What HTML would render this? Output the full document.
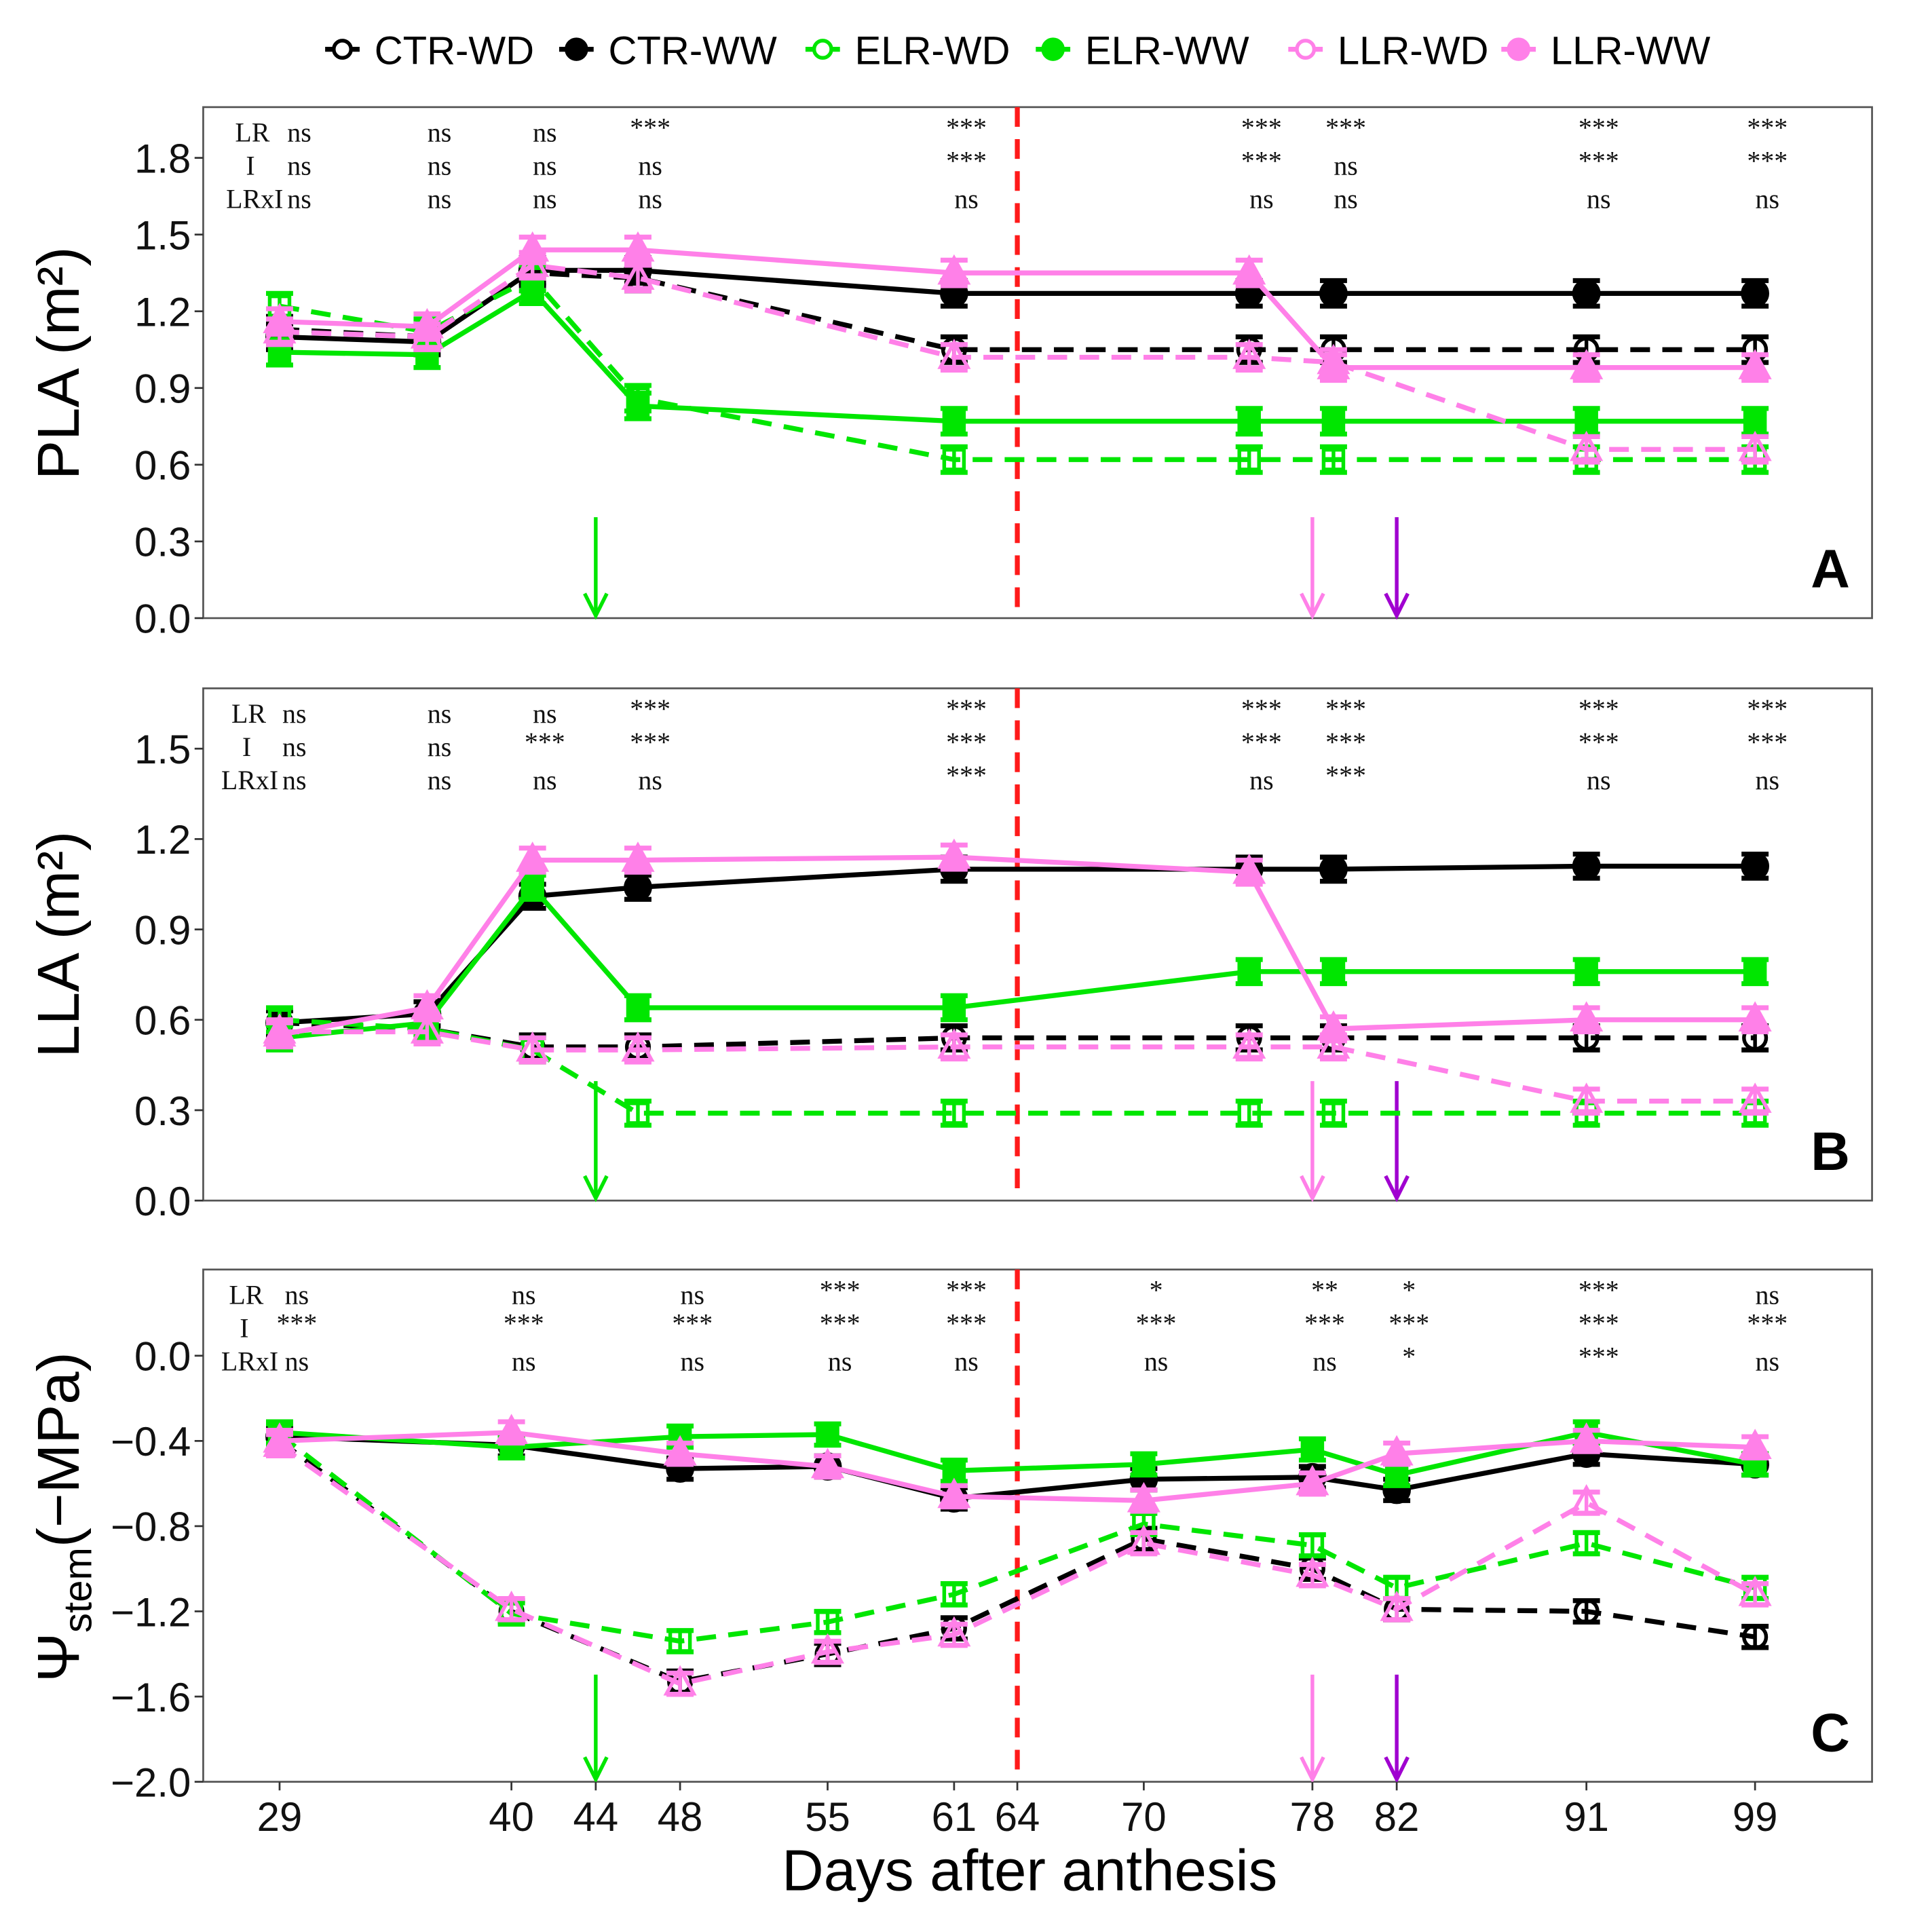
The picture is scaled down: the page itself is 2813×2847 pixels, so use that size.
<!DOCTYPE html>
<html><head><meta charset="utf-8"><style>
html,body{margin:0;padding:0;background:#fff;}
svg{display:block;}
text{font-family:"Liberation Sans",sans-serif;}
.st{font-family:"Liberation Serif",serif;font-size:22px;fill:#111;}
</style></head><body>
<svg id="chart" width="2813" height="2847" viewBox="0 0 1550 1569" preserveAspectRatio="none" xmlns="http://www.w3.org/2000/svg"></svg>
<script>
// ---- data ----
const seriesNames = ["CTR-WD","CTR-WW","ELR-WD","ELR-WW","LLR-WD","LLR-WW"];
const daysAB = [29,36,41,46,61,75,79,91,99];
const daysC = [29,40,48,55,61,70,78,82,91,99];
const xTicks = [29,40,44,48,55,61,64,70,78,82,91,99];
const A_ctrWD = [1.13,1.10,1.35,1.33,1.05,1.05,1.05,1.05,1.05];
const A_ctrWW = [1.10,1.08,1.36,1.36,1.27,1.27,1.27,1.27,1.27];
const A_elrWD = [1.22,1.12,1.33,0.86,0.62,0.62,0.62,0.62,0.62];
const A_elrWW = [1.04,1.03,1.28,0.83,0.77,0.77,0.77,0.77,0.77];
const A_llrWD = [1.12,1.10,1.38,1.33,1.02,1.02,1.00,0.66,0.66];
const A_llrWW = [1.16,1.14,1.44,1.44,1.35,1.35,0.98,0.98,0.98];
const B_ctrWD = [0.59,0.57,0.51,0.51,0.54,0.54,0.54,0.54,0.54];
const B_ctrWW = [0.59,0.62,1.01,1.04,1.10,1.10,1.10,1.11,1.11];
const B_elrWD = [0.60,0.57,0.50,0.29,0.29,0.29,0.29,0.29,0.29];
const B_elrWW = [0.54,0.59,1.04,0.64,0.64,0.76,0.76,0.76,0.76];
const B_llrWD = [0.56,0.56,0.50,0.50,0.51,0.51,0.51,0.33,0.33];
const B_llrWW = [0.55,0.64,1.13,1.13,1.14,1.09,0.57,0.60,0.60];
const C_ctrWD = [-0.40,-1.20,-1.53,-1.40,-1.28,-0.86,-1.00,-1.19,-1.20,-1.32];
const C_ctrWW = [-0.38,-0.42,-0.53,-0.52,-0.67,-0.58,-0.57,-0.63,-0.46,-0.51];
const C_elrWD = [-0.37,-1.21,-1.34,-1.25,-1.12,-0.79,-0.89,-1.09,-0.88,-1.09];
const C_elrWW = [-0.36,-0.43,-0.38,-0.37,-0.54,-0.51,-0.44,-0.56,-0.36,-0.51];
const C_llrWD = [-0.42,-1.19,-1.54,-1.39,-1.31,-0.88,-1.03,-1.19,-0.69,-1.12];
const C_llrWW = [-0.40,-0.36,-0.46,-0.52,-0.66,-0.68,-0.60,-0.46,-0.40,-0.43];
const errA = 0.05, errB = 0.04, errC = 0.05;
const A_yTicks = ["0.0","0.3","0.6","0.9","1.2","1.5","1.8"];
const B_yTicks = ["0.0","0.3","0.6","0.9","1.2","1.5"];
const C_yTicks = ["-2.0","-1.6","-1.2","-0.8","-0.4","0.0"];
const A_statDays = [29,36,41,46,61,75,79,91,99];
const A_LR = ["ns","ns","ns","***","***","***","***","***","***"];
const A_I = ["ns","ns","ns","ns","***","***","ns","***","***"];
const A_LRxI = ["ns","ns","ns","ns","ns","ns","ns","ns","ns"];
const B_LR = ["ns","ns","ns","***","***","***","***","***","***"];
const B_I = ["ns","ns","***","***","***","***","***","***","***"];
const B_LRxI = ["ns","ns","ns","ns","***","ns","***","ns","ns"];
const C_statDays = [29,40,48,55,61,70,78,82,91,99];
const C_LR = ["ns","ns","ns","***","***","*","**","*","***","ns"];
const C_I = ["***","***","***","***","***","***","***","***","***","***"];
const C_LRxI = ["ns","ns","ns","ns","ns","ns","ns","*","***","ns"];

// ---- layout ----
const svg = document.getElementById('chart');
const NS = 'http://www.w3.org/2000/svg';
const L = 165, R = 1520;
const xs = d => 227 + (d - 29) * (1198 / 70);
const colors = {CTR:'#000', ELR:'#00e600', LLR:'#ff80e8'};
function mk(tag, attrs, parent) {
  const e = document.createElementNS(NS, tag);
  for (const k in attrs) e.setAttribute(k, attrs[k]);
  (parent || svg).appendChild(e);
  return e;
}
function marker(g, kind, filled, col, x, y) {
  let e;
  const fill = filled ? col : 'none';
  if (kind === 'c') e = mk('circle', {cx:x, cy:y, r: filled ? 10 : 9, fill:fill, stroke:col, 'stroke-width':3}, g);
  else if (kind === 's') e = mk('rect', {x:x-8, y:y-8, width:16, height:16, fill:fill, stroke:col, 'stroke-width':3}, g);
  else e = mk('polygon', {points:`${x},${y-12} ${x-11},${y+8} ${x+11},${y+8}`, fill:fill, stroke:col, 'stroke-width':3}, g);
  
  
}
function panel(p) {
  const g = mk('g', {});
  
  
  const ys = v => p.bot - (v - p.min) * p.ppu;
  const frame = mk('rect', {x:L, y:p.top, width:R-L, height:p.bot-p.top, fill:'none', stroke:'#555', 'stroke-width':1.5}, g);
  
  
  p.yTicks.forEach(t => {
    const y = ys(parseFloat(t));
    mk('line', {x1:L-7, x2:L, y1:y, y2:y, stroke:'#333', 'stroke-width':1.5}, g);
    const tx = mk('text', {x:L-10, y:y+12, 'font-size':33, 'text-anchor':'end', fill:'#111'}, g);
    tx.textContent = t.replace('-', '\u2212');
    
    
  });
  const rl = mk('line', {x1:xs(64), x2:xs(64), y1:p.top, y2:p.bot, stroke:'#ff1a1a', 'stroke-width':4, 'stroke-dasharray':'16 10'}, g);
  
  
  [[44,'#00e600'],[78,'#ff80e8'],[82,'#a000d0']].forEach(([d,c],i) => {
    const x = xs(d);
    const a = mk('g', {}, g);
    
    
    mk('line', {x1:x, x2:x, y1:p.arrowTop, y2:p.bot-2, stroke:c, 'stroke-width':3}, a);
    mk('polyline', {points:`${x-9},${p.bot-20} ${x},${p.bot-2} ${x+9},${p.bot-20}`, fill:'none', stroke:c, 'stroke-width':3}, a);
  });
  const order = [[0,'CTR','c',false],[1,'CTR','c',true],[2,'ELR','s',false],[3,'ELR','s',true],[4,'LLR','t',false],[5,'LLR','t',true]];
  order.forEach(([i,grp,kind,filled]) => {
    const vals = p.data[i], col = colors[grp];
    const sg = mk('g', {}, g);
    
    
    const pts = vals.map((v,j) => xs(p.days[j]) + ',' + ys(v)).join(' ');
    const pl = mk('polyline', {points:pts, fill:'none', stroke:col, 'stroke-width':4}, sg);
    if (!filled) pl.setAttribute('stroke-dasharray', '16 10');
    vals.forEach((v,j) => {
      const x = xs(p.days[j]), y1 = ys(v + p.err), y2 = ys(v - p.err);
      mk('line', {x1:x, x2:x, y1:y1, y2:y2, stroke:col, 'stroke-width':3}, sg);
      mk('line', {x1:x-11, x2:x+11, y1:y1, y2:y1, stroke:col, 'stroke-width':4}, sg);
      mk('line', {x1:x-11, x2:x+11, y1:y2, y2:y2, stroke:col, 'stroke-width':4}, sg);
      marker(sg, kind, filled, col, x, ys(v));
    });
  });
  const rows = [p.LR, p.I, p.LRxI];
  const rowY = [p.top+28, p.top+55, p.top+82];
  ['LR','I','LRxI'].forEach((lab,r) => {
    const t = mk('text', {x:p.labX[r], y:rowY[r], class:'st', style:'text-anchor:end'}, g);
    t.textContent = lab;
    
    
    rows[r].forEach((s,j) => {
      const x = (j === 0) ? p.firstX : xs(p.statDays[j]) + 10;
      const tt = mk('text', {x:x, y:rowY[r] - (s.indexOf('*') >= 0 ? 4 : 0), class:'st', style:'text-anchor:middle'}, g);
      tt.textContent = s;
      
      
    });
  });
  const letter = mk('text', {x:1502, y:p.bot-25, 'font-size':44, 'font-weight':'bold', 'text-anchor':'end', fill:'#000'}, g);
  letter.textContent = p.letter;
  
  
  return g;
}
panel({letter:'A', top:87, bot:502, min:0, ppu:62.3/0.3, yTicks:A_yTicks, days:daysAB, data:[A_ctrWD,A_ctrWW,A_elrWD,A_elrWW,A_llrWD,A_llrWW], err:errA, statDays:A_statDays, LR:A_LR, I:A_I, LRxI:A_LRxI, labX:[219,207,230], firstX:243, arrowTop:420});
panel({letter:'B', top:559, bot:975, min:0, ppu:73.4/0.3, yTicks:B_yTicks, days:daysAB, data:[B_ctrWD,B_ctrWW,B_elrWD,B_elrWW,B_llrWD,B_llrWW], err:errB, statDays:A_statDays, LR:B_LR, I:B_I, LRxI:B_LRxI, labX:[216,204,226], firstX:239, arrowTop:878});
panel({letter:'C', top:1031, bot:1447, min:-2.0, ppu:69.2/0.4, yTicks:C_yTicks, days:daysC, data:[C_ctrWD,C_ctrWW,C_elrWD,C_elrWW,C_llrWD,C_llrWW], err:errC, statDays:C_statDays, LR:C_LR, I:C_I, LRxI:C_LRxI, labX:[214,202,226], firstX:241, arrowTop:1360});

xTicks.forEach(d => {
  const x = xs(d);
  mk('line', {x1:x, x2:x, y1:1447, y2:1454, stroke:'#333', 'stroke-width':1.5});
  const t = mk('text', {x:x, y:1487, 'font-size':33, 'text-anchor':'middle', fill:'#111'});
  t.textContent = d;
  
  
});
const xt = mk('text', {x:836, y:1535, 'font-size':47, 'text-anchor':'middle', fill:'#000'});
xt.textContent = 'Days after anthesis';



const ya = mk('text', {x:0, y:0, 'font-size':48, 'text-anchor':'middle', fill:'#000', transform:'translate(64,295) rotate(-90)'});
ya.textContent = 'PLA (m\u00b2)';


const yb = mk('text', {x:0, y:0, 'font-size':48, 'text-anchor':'middle', fill:'#000', transform:'translate(64,767) rotate(-90)'});
yb.textContent = 'LLA (m\u00b2)';


const yc = mk('text', {x:0, y:0, 'font-size':48, 'text-anchor':'middle', fill:'#000', transform:'translate(64,1232) rotate(-90)'});


yc.innerHTML = '\u03a8<tspan font-size="32" dy="10">stem</tspan><tspan dy="-10">(\u2212MPa)</tspan>';

const legItems = [[278,'c',false,'CTR'],[468,'c',true,'CTR'],[668,'c',false,'ELR'],[855,'c',true,'ELR'],[1060,'c',false,'LLR'],[1233,'c',true,'LLR']];
legItems.forEach(([x,k,f,grp],i) => {
  const lg = mk('g', {});
  
  
  const col = colors[grp];
  mk('line', {x1:x-14, x2:x+14, y1:40, y2:40, stroke:col, 'stroke-width':4}, lg);
  mk('circle', {cx:x, cy:40, r:f?8:7, fill:f?col:'#fff', stroke:col, 'stroke-width':3}, lg);
  const t = mk('text', {x:x+26, y:52, 'font-size':32, fill:'#000'}, lg);
  t.textContent = seriesNames[i];
});
</script>
</body></html>
